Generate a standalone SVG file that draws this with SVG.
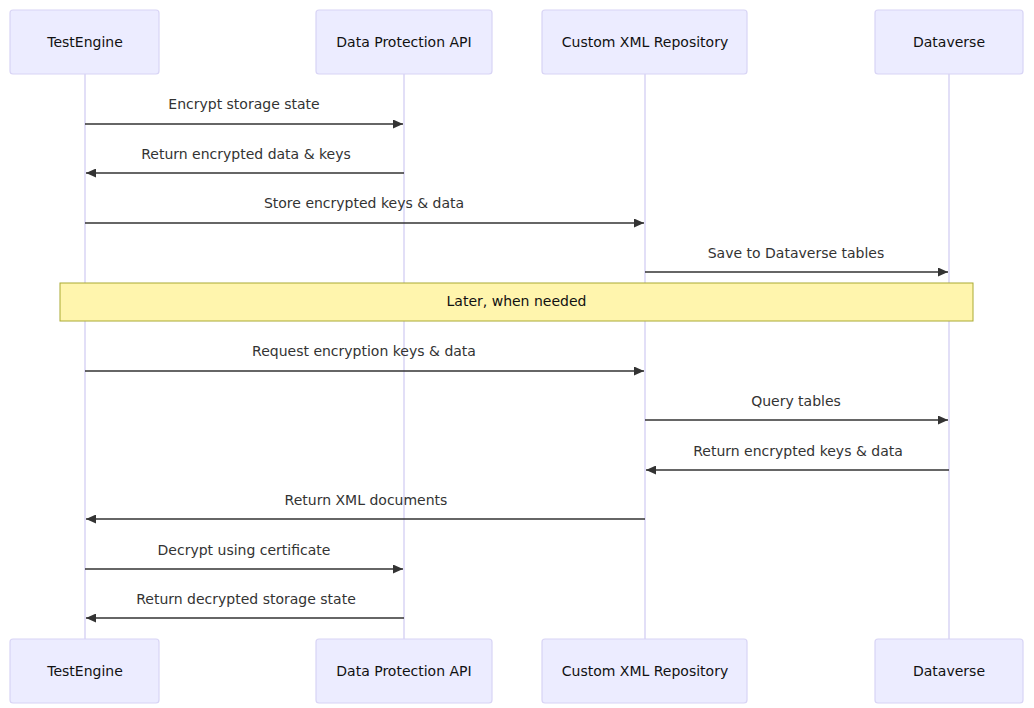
<svg xmlns="http://www.w3.org/2000/svg" width="1034" height="708" viewBox="0 0 1034 708">
<style>
.actor{fill:#ECECFF;stroke:#D8D4F5;stroke-width:1.2}
.life{stroke:#D8D4F5;stroke-width:1.5}
.lbl{font-family:"DejaVu Sans",sans-serif;font-size:14px;fill:#333;text-anchor:middle}
.atxt{font-family:"DejaVu Sans",sans-serif;font-size:14px;fill:#111;text-anchor:middle}
.msg{stroke:#333;stroke-width:1.5;fill:none}
.note{fill:#FFF5AD;stroke:#AAAA33;stroke-width:1}
</style>
<defs>
<marker id="ah" viewBox="0 0 10 9" refX="10" refY="4.5" markerWidth="10" markerHeight="9" markerUnits="userSpaceOnUse" orient="auto">
<path d="M0,0 L10,4.5 L0,9 z" fill="#333"/>
</marker>
</defs>
<g id="lifelines">
<line class="life" x1="85" y1="74" x2="85" y2="639"/>
<line class="life" x1="404" y1="74" x2="404" y2="639"/>
<line class="life" x1="645" y1="74" x2="645" y2="639"/>
<line class="life" x1="949" y1="74" x2="949" y2="639"/>
</g>
<g id="actor-testengine-top"><rect class="actor" x="10" y="10" width="149" height="64" rx="3"/><text class="atxt" x="85" y="47">TestEngine</text></g>
<g id="actor-dpapi-top"><rect class="actor" x="316" y="10" width="176" height="64" rx="3"/><text class="atxt" x="404" y="47">Data Protection API</text></g>
<g id="actor-xmlrepo-top"><rect class="actor" x="542" y="10" width="205" height="64" rx="3"/><text class="atxt" x="645" y="47">Custom XML Repository</text></g>
<g id="actor-dataverse-top"><rect class="actor" x="875" y="10" width="148" height="64" rx="3"/><text class="atxt" x="949" y="47">Dataverse</text></g>
<g id="actor-testengine-bottom"><rect class="actor" x="10" y="639" width="149" height="64" rx="3"/><text class="atxt" x="85" y="676">TestEngine</text></g>
<g id="actor-dpapi-bottom"><rect class="actor" x="316" y="639" width="176" height="64" rx="3"/><text class="atxt" x="404" y="676">Data Protection API</text></g>
<g id="actor-xmlrepo-bottom"><rect class="actor" x="542" y="639" width="205" height="64" rx="3"/><text class="atxt" x="645" y="676">Custom XML Repository</text></g>
<g id="actor-dataverse-bottom"><rect class="actor" x="875" y="639" width="148" height="64" rx="3"/><text class="atxt" x="949" y="676">Dataverse</text></g>
<g id="note-later"><rect class="note" x="60" y="283" width="913" height="38"/><text class="atxt" x="516.5" y="306">Later, when needed</text></g>
<g id="connectors">
<line class="msg" x1="85" y1="124" x2="403" y2="124" marker-end="url(#ah)"/>
<text class="lbl" x="244" y="109">Encrypt storage state</text>
<line class="msg" x1="404" y1="173" x2="86" y2="173" marker-end="url(#ah)"/>
<text class="lbl" x="246" y="159">Return encrypted data &amp; keys</text>
<line class="msg" x1="85" y1="223" x2="644" y2="223" marker-end="url(#ah)"/>
<text class="lbl" x="364" y="208">Store encrypted keys &amp; data</text>
<line class="msg" x1="645" y1="272" x2="948" y2="272" marker-end="url(#ah)"/>
<text class="lbl" x="796" y="258">Save to Dataverse tables</text>
<line class="msg" x1="85" y1="371" x2="644" y2="371" marker-end="url(#ah)"/>
<text class="lbl" x="364" y="356">Request encryption keys &amp; data</text>
<line class="msg" x1="645" y1="420" x2="948" y2="420" marker-end="url(#ah)"/>
<text class="lbl" x="796" y="406">Query tables</text>
<line class="msg" x1="949" y1="470" x2="646" y2="470" marker-end="url(#ah)"/>
<text class="lbl" x="798" y="456">Return encrypted keys &amp; data</text>
<line class="msg" x1="645" y1="519" x2="86" y2="519" marker-end="url(#ah)"/>
<text class="lbl" x="366" y="505">Return XML documents</text>
<line class="msg" x1="85" y1="569" x2="403" y2="569" marker-end="url(#ah)"/>
<text class="lbl" x="244" y="555">Decrypt using certificate</text>
<line class="msg" x1="404" y1="618" x2="86" y2="618" marker-end="url(#ah)"/>
<text class="lbl" x="246" y="604">Return decrypted storage state</text>
</g>
</svg>
